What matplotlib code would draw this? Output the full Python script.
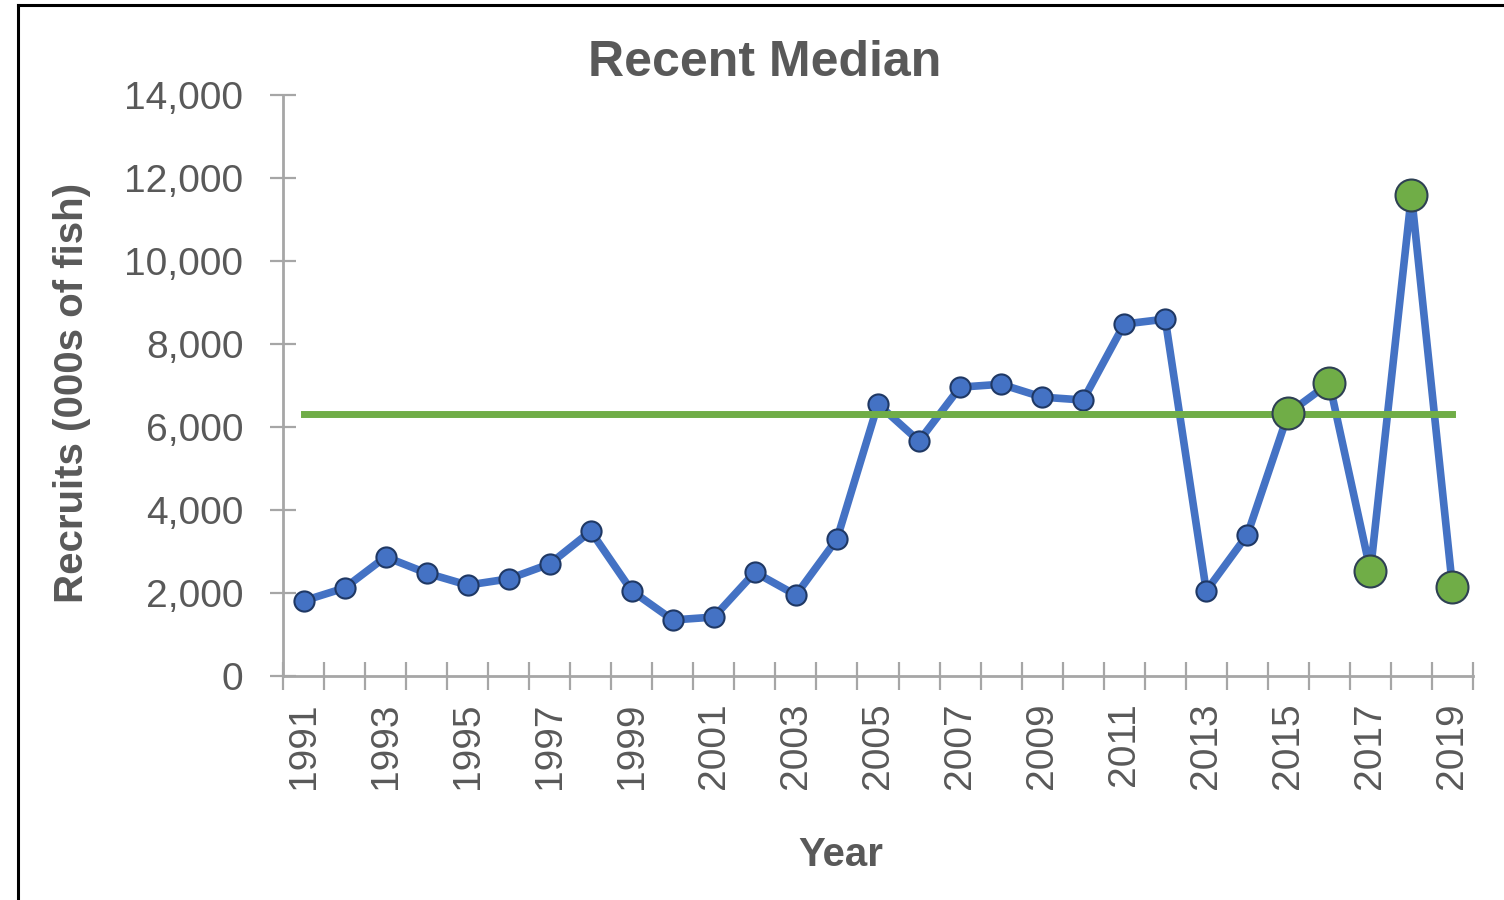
import matplotlib
matplotlib.use("Agg")
import matplotlib.pyplot as plt
from matplotlib.lines import Line2D

# data
years = list(range(1991, 2020))
recruits = [1810, 2120, 2870, 2480, 2190, 2340, 2700, 3490, 2050, 1350,
            1420, 2500, 1950, 3300, 6550, 5660, 6960, 7030, 6720, 6650,
            8480, 8600, 2050, 3400, 6330, 7060, 2530, 11590, 2140]
recent_years = [2015, 2016, 2017, 2018, 2019]
recent_vals = [6330, 7060, 2530, 11590, 2140]
median_val = 6320
tick_years = [str(y) for y in range(1991, 2020, 2)]

blue = "#4472C4"
green = "#70AD47"
grey = "#A6A6A6"
text_col = "#595959"

plt.rcParams['font.family'] = ['Liberation Sans', 'DejaVu Sans']

fig = plt.figure(figsize=(15.04, 9), dpi=100)
ax = fig.add_axes([283/1504, 1-676/900, (1473-283)/1504, (676-95)/900])

idx = [years.index(y) for y in years]
ridx = [years.index(y) for y in recent_years]

ax.plot(idx, recruits, color=blue, lw=5.5, marker='o', ms=14.5,
        mfc=blue, mec="#1F3864", mew=1.5, zorder=3)
ax.plot([idx[0], idx[-1]], [median_val, median_val], color=green, lw=5, zorder=4)
ax.plot(ridx, recent_vals, ls='none', marker='o', ms=23,
        mfc=green, mec="#2E4053", mew=1.5, zorder=5)

ax.set_xlim(-0.5, len(years) - 0.5)
ax.set_ylim(0, 14000)

# category boundary ticks, labels on every other year
ax.set_xticks([i - 0.5 for i in range(len(years) + 1)])
ax.set_xticklabels([])
ax.set_xticks(list(range(0, len(years), 2)), minor=True)
ax.set_xticklabels(tick_years, minor=True, rotation=90)
ax.tick_params(axis='x', which='major', direction='inout', length=20,
               width=1.6, color=grey)
ax.tick_params(axis='x', which='minor', length=0, pad=19,
               labelsize=28, labelcolor=text_col)

ax.set_yticks(range(0, 14001, 2000))
ax.set_yticklabels([f"{v:,}" for v in range(0, 14001, 2000)])
ax.tick_params(axis='y', direction='inout', length=19, width=1.6, color=grey,
               pad=19, labelsize=28, labelcolor=text_col)

for s in ['top', 'right']:
    ax.spines[s].set_visible(False)
for s in ['left', 'bottom']:
    ax.spines[s].set_color(grey)
    ax.spines[s].set_linewidth(2)

fig.text(765/1504, 1-63/900, "Recent Median", ha='center', va='center',
         fontsize=36, fontweight='bold', color=text_col)
fig.text(72/1504, 1-393/900, "Recruits (000s of fish)", ha='center', va='center',
         rotation=90, fontsize=29, fontweight='bold', color=text_col)
fig.text(841/1504, 1-855/900, "Year", ha='center', va='center',
         fontsize=29, fontweight='bold', color=text_col)

# border at top and left
fig.add_artist(Line2D([17.5/1504, 1], [1-4.5/900, 1-4.5/900], color='black', lw=2.2))
fig.add_artist(Line2D([17.5/1504, 17.5/1504], [0, 1-4.5/900], color='black', lw=2.2))

fig.savefig("out.png", dpi=100)
